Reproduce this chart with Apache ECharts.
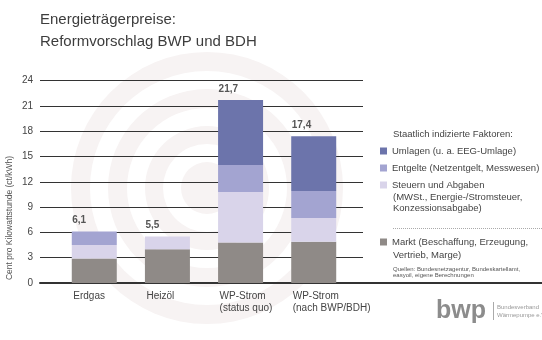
<!DOCTYPE html>
<html><head><meta charset="utf-8">
<script src="https://cdn.jsdelivr.net/npm/echarts@6/dist/echarts.min.js"></script>
<style>html,body{margin:0;padding:0;background:#fff}#c{width:542px;height:340px}</style>
</head><body><div id="c"></div>
<script>
// ---- data ----
const categories = ['Erdgas', 'Heizöl', 'WP-Strom\n(status quo)', 'WP-Strom\n(nach BWP/BDH)'];
const markt    = [2.9, 4.0, 4.8, 4.9];
const steuern  = [1.6, 1.5, 6.0, 2.8];
const entgelte = [1.6, 0,   3.2, 3.2];
const umlagen  = [0,   0,   7.7, 6.5];
const totals      = [6.1, 5.5, 21.7, 17.4];
const totalLabels = ['6,1', '5,5', '21,7', '17,4'];
const yTicks = [0, 3, 6, 9, 12, 15, 18, 21, 24];

const seriesNames = {
  umlagen: 'Umlagen (u. a. EEG-Umlage)',
  entgelte: 'Entgelte (Netzentgelt, Messwesen)',
  steuern: 'Steuern und Abgaben',
  markt: 'Markt (Beschaffung, Erzeugung,'
};

// ---- styles ----
const C = { umlagen:'#6c74ab', entgelte:'#a3a4d1', steuern:'#d9d4ea', markt:'#8f8a87', text:'#444' };
const FONT = '"Liberation Sans", Arial, sans-serif';
const BAR_W = 45;
const TOP = 80.5, H = 202.5;

const chart = echarts.init(document.getElementById('c'), null, {renderer:'canvas'});

function legend(name, top) {
  return {
    data: [name], left: 380, top: top, padding: 0,
    icon: 'rect', itemWidth: 7, itemHeight: 7, itemGap: 0,
    selectedMode: false,
    textStyle: { fontFamily: FONT, fontSize: 9.5, color: C.text, padding: [0,0,0,0] }
  };
}

const cx = 207, cy = 188, bg = '#f7f3f3';
const option = {
  backgroundColor: '#ffffff',
  animation: false,
  textStyle: { fontFamily: FONT },
  graphic: [
    { type:'ring', z:-100, shape:{cx:cx, cy:cy, r:136, r0:117}, style:{fill:bg} },
    { type:'ring', z:-100, shape:{cx:cx, cy:cy, r:99, r0:80}, style:{fill:bg} },
    { type:'ring', z:-100, shape:{cx:cx, cy:cy, r:62, r0:44}, style:{fill:bg} },
    { type:'circle', z:-100, shape:{cx:cx, cy:cy, r:26}, style:{fill:bg} },
    { type:'text', left: 40, top: 9, style:{ text:'Energieträgerpreise:\nReformvorschlag BWP und BDH', font:'15px '+FONT, fill:'#3d3d3d', lineHeight: 22 } },
    { type:'text', x: 10, y: 218, rotation: Math.PI/2, style:{ text:'Cent pro Kilowattstunde (ct/kWh)', font:'8.5px '+FONT, fill:'#555', align:'center', verticalAlign:'middle' } },
    { type:'text', x: 393, y: 134, style:{ text:'Staatlich indizierte Faktoren:', font:'9.5px '+FONT, fill:C.text, verticalAlign:'middle' } },
    { type:'text', x: 393, y: 192, style:{ text:'(MWSt., Energie-/Stromsteuer,\nKonzessionsabgabe)', font:'9.5px '+FONT, fill:C.text, lineHeight: 11 } },
    { type:'line', shape:{x1:393, y1:228.5, x2:542, y2:228.5}, style:{ stroke:'#aaa', lineWidth:1, lineDash:[1,1] } },
    { type:'text', x: 393, y: 255, style:{ text:'Vertrieb, Marge)', font:'9.5px '+FONT, fill:C.text, verticalAlign:'middle' } },
    { type:'text', x: 393, y: 266, style:{ text:'Quellen: Bundesnetzagentur, Bundeskartellamt,\neasyoil, eigene Berechnungen', font:'6px '+FONT, fill:'#555', lineHeight: 6.5 } },
    { type:'text', x: 436, y: 311, style:{ text:'bwp', font:'bold 25px '+FONT, fill:'#8c8c8c', verticalAlign:'middle' } },
    { type:'line', shape:{x1:493.5, y1:302, x2:493.5, y2:320}, style:{ stroke:'#aaa', lineWidth:1 } },
    { type:'text', x: 497, y: 303, style:{ text:'Bundesverband\nWärmepumpe e.V.', font:'6px '+FONT, fill:'#999', lineHeight: 8 } }
  ],
  legend: [
    legend(seriesNames.umlagen, 146),
    legend(seriesNames.entgelte, 163),
    legend(seriesNames.steuern, 180),
    legend(seriesNames.markt, 237)
  ],
  grid: [
    { left: 40, right: 0, top: TOP, height: H },
    { left: 40, width: 323, top: TOP, height: H },
    { left: 57.7, width: 292.6, top: TOP, height: H }
  ],
  xAxis: [
    { gridIndex:0, type:'value', min:0, max:1, axisLine:{show:true, onZero:false, lineStyle:{color:'#333', width:2}}, axisTick:{show:false}, axisLabel:{show:false}, splitLine:{show:false} },
    { gridIndex:1, type:'value', min:0, max:1, show:false },
    { gridIndex:2, type:'category', data: categories, show:false }
  ],
  yAxis: [
    { gridIndex:0, type:'value', min:0, max:24, show:false },
    { gridIndex:1, type:'value', min:0, max:24, interval:3,
      axisLine:{show:false}, axisTick:{show:false},
      axisLabel:{ color:C.text, fontSize:10, fontFamily:FONT, margin:7 },
      splitLine:{ lineStyle:{ color:'#333', width:1 } } },
    { gridIndex:2, type:'value', min:0, max:24, show:false }
  ],
  series: [
    { name: seriesNames.markt, type:'bar', stack:'s', xAxisIndex:2, yAxisIndex:2, barWidth:BAR_W, data: markt, itemStyle:{color:C.markt} },
    { name: seriesNames.steuern, type:'bar', stack:'s', xAxisIndex:2, yAxisIndex:2, barWidth:BAR_W, data: steuern, itemStyle:{color:C.steuern} },
    { name: seriesNames.entgelte, type:'bar', stack:'s', xAxisIndex:2, yAxisIndex:2, barWidth:BAR_W, data: entgelte, itemStyle:{color:C.entgelte} },
    { name: seriesNames.umlagen, type:'bar', stack:'s', xAxisIndex:2, yAxisIndex:2, barWidth:BAR_W, data: umlagen, itemStyle:{color:C.umlagen} },
    { type:'custom', xAxisIndex:2, yAxisIndex:2, clip:false, z:5,
      data: totals.map((v,i)=>[i, v, totalLabels[i]]),
      renderItem: function(params, api){
        const p = api.coord([api.value(0), api.value(1)]);
        return { type:'text', x: p[0] - BAR_W/2 + 0.5, y: p[1] - 11,
          style:{ text: totalLabels[params.dataIndex], font:'bold 10px '+FONT, fill:'#555', verticalAlign:'middle' } };
      }
    },
    { type:'custom', xAxisIndex:2, yAxisIndex:2, clip:false, z:5,
      data: categories.map((c,i)=>[i, 0]),
      renderItem: function(params, api){
        const p = api.coord([api.value(0), 0]);
        return { type:'text', x: p[0] - BAR_W/2 + 1.5, y: p[1] + 7.5,
          style:{ text: categories[params.dataIndex], font:'10px '+FONT, fill:C.text, verticalAlign:'top', lineHeight: 11.5 } };
      }
    }
  ]
};
chart.setOption(option);
</script></body></html>
